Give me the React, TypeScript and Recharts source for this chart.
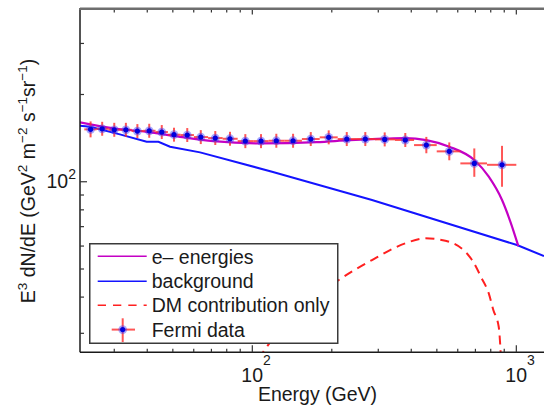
import React from 'react';
import { ComposedChart, Line, Scatter, XAxis, YAxis, ErrorBar, Legend } from 'recharts';

// axis ticks (log scale, minor ticks unlabeled)
const xTicks = [30, 40, 50, 60, 70, 80, 90, 100, 200, 300, 400, 500, 600, 700, 800, 900, 1000];
const yTicks = [30, 40, 50, 60, 70, 80, 90, 100, 200, 300];
const X_DOMAIN: [number, number] = [22.25, 1273];
const Y_DOMAIN: [number, number] = [25.8, 396];

// Fermi data points
const fermiEnergy = [24.4, 27.0, 30.0, 33.2, 36.7, 40.7, 45.4, 50.5, 56.7, 63.8, 72.4, 82.3, 94.1, 107.9, 123.3, 142.7, 166.5, 194.7, 227.9, 267.9, 317.3, 379.7, 456.2, 557.3, 693.2, 882.8];
const fermiFlux = [151.6, 152.3, 151.1, 151.1, 149.6, 149.9, 148.4, 145.3, 144.9, 142.6, 141.5, 140.7, 138.1, 138.1, 138.5, 138.5, 140.4, 142.3, 140.4, 140.4, 140.0, 139.3, 133.8, 127.3, 115.7, 114.4];
const binEdges = [23.1, 25.7, 28.5, 31.6, 34.9, 38.6, 43.0, 47.9, 53.5, 60.1, 68.0, 77.2, 88.0, 100.8, 115.3, 132.6, 154.1, 180.0, 210.6, 247.1, 291.6, 347.1, 409.8, 499.4, 613.8, 774.5, 1000];
const fluxErrLow = [9.3, 8.2, 8.2, 8.2, 8.1, 8.1, 8.0, 7.8, 7.8, 7.7, 7.6, 7.6, 7.5, 7.5, 7.5, 7.5, 7.6, 7.7, 7.6, 7.6, 7.6, 7.5, 8.4, 8.7, 11.7, 18.3];
const fluxErrHigh = [9.9, 8.7, 8.6, 8.6, 8.5, 8.6, 8.5, 8.3, 8.3, 8.1, 8.1, 8.0, 7.9, 7.9, 7.9, 7.9, 8.0, 8.1, 8.0, 8.0, 8.0, 8.0, 9.0, 9.4, 14.6, 18.6];

// e- energies (total)
const totalEnergy = [22.25, 29.8, 39.8, 53.2, 71.2, 106.9, 175.4, 234.4, 312.7, 379.7, 456.2, 557.3, 693.2, 786.3, 882.8, 950.6, 1017.6];
const totalFlux = [160.3, 152.8, 148.7, 142.9, 138.1, 135.6, 137.0, 139.2, 140.8, 141.5, 139.2, 132.1, 118.8, 104.1, 86.5, 72.6, 60.0];

// background
const bgEnergy = [22.25, 24.3, 31.5, 39.8, 44.1, 48.8, 63.4, 118.8, 284.0, 1006, 1273];
const bgFlux = [156.0, 154.8, 145.7, 137.4, 137.4, 132.1, 126.3, 108.3, 86.5, 60.5, 55.4];

// DM contribution only
const dmEnergy = [106.0, 110.1, 118.8, 212.5, 284.0, 379.7, 452.1, 538.4, 679.5, 739.5, 786.3, 818.2, 857.6, 869.8, 875.0];
const dmFlux = [24.5, 25.9, 28.5, 45.8, 53.7, 61.3, 63.8, 62.6, 53.7, 46.4, 41.2, 36.1, 31.6, 27.0, 24.3];

const toSeries = (xs: number[], ys: number[]) => xs.map((e, i) => ({ e, v: ys[i] }));

const totalData = toSeries(totalEnergy, totalFlux);
const bgData = toSeries(bgEnergy, bgFlux);
const dmData = toSeries(dmEnergy, dmFlux);
const fermiData = fermiEnergy.map((e, i) => ({
  e,
  v: fermiFlux[i],
  xErr: [e - binEdges[i], binEdges[i + 1] - e],
  yErr: [fluxErrLow[i], fluxErrHigh[i]],
}));

const FONT = '"Liberation Sans", Arial, Helvetica, sans-serif';
const TICK_COLOR = '#333';
const PLOT_TOP = 8.5;

const isDecade = (v: number) => v === 100 || v === 1000;

const BottomTick = (props: any) => {
  const { x, y, payload } = props;
  const v = payload.value;
  const major = isDecade(v);
  return (
    <g>
      <line x1={x} y1={y} x2={x} y2={y - (major ? 7 : 3.5)} stroke={TICK_COLOR} strokeWidth={1.2} />
      {major && (
        <text x={x - 11} y={y + 29.4} fontSize={19.5} fill="#1a1a1a" fontFamily={FONT}>
          10
          <tspan dy={-17} fontSize={14}>{v === 100 ? '2' : '3'}</tspan>
        </text>
      )}
    </g>
  );
};

// top frame: ticks point down into the plot
const TopTick = (props: any) => {
  const { x, y, payload } = props;
  return (
    <line x1={x} y1={y} x2={x} y2={y + (isDecade(payload.value) ? 6 : 4)} stroke={TICK_COLOR} strokeWidth={1.2} />
  );
};

const LeftTick = (props: any) => {
  const { x, y, payload } = props;
  const major = payload.value === 100;
  return (
    <g>
      <line x1={x} y1={y} x2={x + (major ? 7 : 4)} y2={y} stroke={TICK_COLOR} strokeWidth={1.2} />
      {major && (
        <text x={x - 4} y={y + 6.6} textAnchor="end" fontSize={19.5} fill="#1a1a1a" fontFamily={FONT}>
          10
          <tspan dy={-9} fontSize={14}>2</tspan>
        </text>
      )}
    </g>
  );
};

const YTitle = () => (
  <text
    transform="translate(35,181) rotate(-90)"
    textAnchor="middle"
    fontSize={19.5}
    fill="#1a1a1a"
    fontFamily={FONT}
  >
    E<tspan dy={-8} fontSize={13.5}>3</tspan>
    <tspan dy={8}>{' dN/dE (GeV'}</tspan>
    <tspan dy={-8} fontSize={13.5}>2</tspan>
    <tspan dy={8}>{' m'}</tspan>
    <tspan dy={-8} fontSize={13.5}>−2</tspan>
    <tspan dy={8}>{' s'}</tspan>
    <tspan dy={-8} fontSize={13.5}>−1</tspan>
    <tspan dy={8}>sr</tspan>
    <tspan dy={-8} fontSize={13.5}>−1</tspan>
    <tspan dy={8}>)</tspan>
  </text>
);

const XTitle = () => (
  <text x={317.5} y={401} textAnchor="middle" fontSize={19.5} fill="#1a1a1a" fontFamily={FONT}>
    Energy (GeV)
  </text>
);

const FermiDot = (props: any) => {
  const { cx, cy } = props;
  return (
    <g>
      <circle cx={cx} cy={cy} r={4.4} fill="#3b3bff" opacity={0.45} />
      <circle cx={cx} cy={cy} r={2.6} fill="#0000dd" />
    </g>
  );
};

const LegendBox = () => (
  <svg width={250} height={101} style={{ display: 'block' }}>
    <rect x={0.75} y={0.75} width={248} height={99.5} fill="#fff" stroke="#3a3a3a" strokeWidth={1.5} />
    <line x1={8.7} y1={13.3} x2={57.7} y2={13.3} stroke="#c400c4" strokeWidth={1.6} />
    <line x1={8.7} y1={38.3} x2={57.7} y2={38.3} stroke="#1414ff" strokeWidth={1.6} />
    <line x1={8.7} y1={62.3} x2={57.7} y2={62.3} stroke="#ff2020" strokeWidth={1.6} strokeDasharray="8.3 7" />
    <line x1={22.7} y1={86.6} x2={46} y2={86.6} stroke="#ff2a2a" strokeOpacity={0.8} strokeWidth={2} />
    <line x1={33.7} y1={75.3} x2={33.7} y2={99} stroke="#ff2a2a" strokeOpacity={0.8} strokeWidth={2} />
    <circle cx={33.7} cy={86.6} r={4.4} fill="#3b3bff" opacity={0.45} />
    <circle cx={33.7} cy={86.6} r={2.6} fill="#0000dd" />
    <g fontSize={19.5} fill="#1a1a1a" fontFamily={FONT}>
      <text x={62.7} y={20.6}>e– energies</text>
      <text x={62.7} y={45.3}>background</text>
      <text x={62.7} y={69.3}>DM contribution only</text>
      <text x={62.7} y={94.3}>Fermi data</text>
    </g>
  </svg>
);

export default function App() {
  return (
    <div style={{ position: 'absolute', left: 0, top: 0, width: 544, height: 407, overflow: 'hidden', background: '#fff' }}>
      <ComposedChart width={544} height={407} margin={{ top: PLOT_TOP - 1, right: 0, bottom: 0, left: 0 }}>
        <XAxis
          dataKey="e"
          type="number"
          scale="log"
          domain={X_DOMAIN}
          allowDataOverflow
          ticks={xTicks}
          interval={0}
          height={54.7}
          tickSize={0}
          tickMargin={0}
          tick={<BottomTick />}
          axisLine={{ stroke: '#1a1a1a', strokeWidth: 1.5 }}
          label={<XTitle />}
        />
        <XAxis
          xAxisId="top"
          orientation="top"
          dataKey="e"
          type="number"
          scale="log"
          domain={X_DOMAIN}
          allowDataOverflow
          ticks={xTicks}
          interval={0}
          height={1}
          tickSize={0}
          tickMargin={0}
          tick={<TopTick />}
          axisLine={{ stroke: '#6e6e6e', strokeWidth: 2 }}
        />
        <YAxis
          type="number"
          scale="log"
          domain={Y_DOMAIN}
          allowDataOverflow
          ticks={yTicks}
          interval={0}
          width={80}
          tickSize={0}
          tickMargin={0}
          tick={<LeftTick />}
          axisLine={{ stroke: '#1a1a1a', strokeWidth: 1.5 }}
          label={<YTitle />}
        />
        <Legend
          layout="horizontal"
          align="center"
          verticalAlign="middle"
          content={() => <LegendBox />}
          wrapperStyle={{ position: 'absolute', left: 89, top: 242.7, width: 250, height: 101 }}
        />
        {/* background plotted against the top axis (same log scale) so the top frame is drawn */}
        <Line
          data={bgData}
          xAxisId="top"
          dataKey="v"
          type="linear"
          stroke="#1414ff"
          strokeWidth={2}
          dot={false}
          activeDot={false}
          isAnimationActive={false}
        />
        <Line
          data={totalData}
          dataKey="v"
          type="monotone"
          stroke="#c400c4"
          strokeWidth={2.2}
          dot={false}
          activeDot={false}
          isAnimationActive={false}
        />
        <Line
          data={dmData}
          dataKey="v"
          type="monotone"
          stroke="#ff2020"
          strokeWidth={2}
          strokeDasharray="9 6"
          dot={false}
          activeDot={false}
          isAnimationActive={false}
        />
        <Scatter data={fermiData} dataKey="v" shape={<FermiDot />} isAnimationActive={false}>
          <ErrorBar dataKey="yErr" direction="y" width={0} stroke="#ff2a2a" strokeOpacity={0.8} strokeWidth={2} />
          <ErrorBar dataKey="xErr" direction="x" width={0} stroke="#ff2a2a" strokeOpacity={0.8} strokeWidth={2} />
        </Scatter>
      </ComposedChart>
      {/* top frame line, kept above everything in case the svg strip is covered */}
      <div
        style={{
          position: 'absolute',
          left: 79,
          top: PLOT_TOP - 1,
          width: 465,
          height: 0,
          borderTop: '2px solid #6e6e6e',
          zIndex: 10,
          pointerEvents: 'none',
        }}
      />
    </div>
  );
}
